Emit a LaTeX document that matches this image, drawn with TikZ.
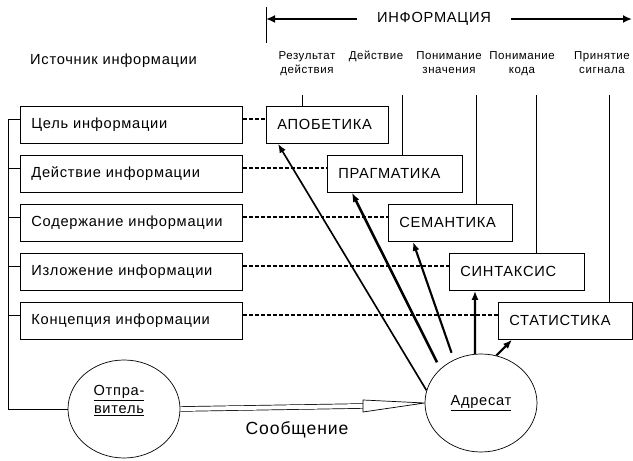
\documentclass[tikz,border=0pt]{standalone}
\usepackage{fontspec}
\setmainfont{Liberation Sans}[LetterSpace=5]
\usetikzlibrary{arrows.meta, shapes.geometric, calc}

\begin{document}
\begin{tikzpicture}[x=0.03cm, y=-0.03cm,
  srcbox/.style={draw, line width=0.7pt, anchor=north west, minimum height=1.11cm,
    text width=6.0cm, inner xsep=0.33cm, align=left, font=\fontsize{12.5}{14}\selectfont},
  lvlbox/.style={draw, line width=0.7pt, anchor=north west, minimum height=1.11cm,
    inner xsep=0.33cm, align=left, font=\fontsize{12.5}{14}\selectfont},
  coltxt/.style={anchor=north, inner sep=0pt, align=center, font=\fontsize{9.8}{12}\selectfont},
  party/.style={draw, ellipse, line width=0.6pt, minimum width=3.36cm, minimum height=2.94cm,
    inner sep=0pt, font=\fontsize{12.5}{14}\selectfont},
  link/.style={line width=1.4pt, dash pattern=on 3.4pt off 1.7pt},
  up/.style={line width=1.8pt, -{Latex[length=0.27cm, width=0.21cm]}}
]
\useasboundingbox (0,0) rectangle (633,461);

% Top arrow: information
\coordinate (iTickA) at (266,7);
\coordinate (iTickB) at (266,43);
\coordinate (iL) at (266,19);
\coordinate (iR) at (632,19);
\draw[line width=0.7pt] (iTickA) -- (iTickB);
\draw[line width=1.8pt, {Latex[length=0.27cm, width=0.24cm]}-{Latex[length=0.27cm, width=0.24cm]}]
  (iL) -- node[pos=0.459, fill=white, inner xsep=0.6cm, font=\fontsize{12.5}{14}\selectfont] (info) {ИНФОРМАЦИЯ} (iR);

% Column labels
\node[coltxt] (lres) at (307,51) {Результат\\действия};
\node[coltxt] (lact) at (376,51) {Действие};
\node[coltxt] (lmean) at (449,51) {Понимание\\значения};
\node[coltxt] (lcode) at (522,51) {Понимание\\кода};
\node[coltxt] (lsig) at (602,51) {Принятие\\сигнала};

% Source title
\node[anchor=west, inner sep=0pt, font=\fontsize{12.5}{14}\selectfont] (srctitle) at (30,61) {Источник информации};

% Source boxes
\node[srcbox] (src1) at (20,106) {Цель информации};
\node[srcbox] (src2) at (20,155) {Действие информации};
\node[srcbox] (src3) at (20,204) {Содержание информации};
\node[srcbox] (src4) at (20,253) {Изложение информации};
\node[srcbox] (src5) at (20,302) {Концепция информации};

% Level boxes
\node[lvlbox, text width=3.0cm] (apo) at (266,106) {АПОБЕТИКА};
\node[lvlbox, text width=3.39cm] (prag) at (327,155) {ПРАГМАТИКА};
\node[lvlbox, text width=3.06cm] (sem) at (388,204) {СЕМАНТИКА};
\node[lvlbox, text width=3.39cm] (synt) at (449,253) {СИНТАКСИС};
\node[lvlbox, text width=3.36cm] (stat) at (498,302) {СТАТИСТИКА};

% Sender and addressee
\node[party, label={[shift={(-0.15cm,0.25cm)}, align=center, font=\fontsize{12.5}{15}\selectfont]center:{\underline{Отпра-}\\\underline{витель}}}] (snd) at (124,409) {};
\node[party] (adr) at (481,403) {\underline{Адресат}};

% Vertical lines from the column labels
\coordinate (vA) at (302,95);
\coordinate (vB) at (402,95);
\coordinate (vC) at (476,95);
\coordinate (vD) at (536,95);
\coordinate (vE) at (609,95);
\draw[line width=0.7pt] (vA) -- (vA |- apo.north);
\draw[line width=0.7pt] (vB) -- (vB |- prag.north);
\draw[line width=0.7pt] (vC) -- (vC |- sem.north);
\draw[line width=0.7pt] (vD) -- (vD |- synt.north);
\draw[line width=0.7pt] (vE) -- (vE |- stat.north);

% Bracket on the left
\draw[line width=0.7pt] ([yshift=0.17cm]src1.west) -- ++(-12,0) coordinate (brtop) |- (snd.west);
\draw[line width=0.7pt] ([yshift=0.17cm]src2.west) -- ++(-12,0);
\draw[line width=0.7pt] ([yshift=0.17cm]src3.west) -- ++(-12,0);
\draw[line width=0.7pt] ([yshift=0.17cm]src4.west) -- ++(-12,0);
\draw[line width=0.7pt] ([yshift=0.17cm]src5.west) -- ++(-12,0);

% Dashed links
\draw[link] ([yshift=0.17cm]src1.east) -- ([yshift=0.17cm]apo.west);
\draw[link] ([yshift=0.17cm]src2.east) -- ([yshift=0.17cm]prag.west);
\draw[link] ([yshift=0.17cm]src3.east) -- ([yshift=0.17cm]sem.west);
\draw[link] ([yshift=0.17cm]src4.east) -- ([yshift=0.17cm]synt.west);
\draw[link] ([yshift=0.17cm]src5.east) -- ([yshift=0.17cm]stat.west);

% Arrows from the addressee
\draw[up, line width=1.4pt] (adr.167) -- ([xshift=0.36cm]apo.south west);
\draw[up, line width=2.2pt, shorten <=0.22cm] (adr.140) -- ([xshift=0.75cm]prag.south west);
\draw[up, shorten <=0.22cm] (adr.122) -- ([xshift=0.75cm]sem.south west);
\draw[up] (adr.97) -- ([xshift=0.78cm]synt.south west);
\draw[up] (adr.72) -- ([xshift=0.42cm]stat.south west);

% Message
\draw[line width=0.6pt, double, double distance=0.12cm] (snd.east) -- (363,406) coordinate (mbase);
\draw[line width=0.6pt, fill=white] ($(mbase)+(0,-6)$) -- (adr.west) -- ($(mbase)+(0,6)$) -- cycle;
\node[font=\fontsize{15}{18}\selectfont] (msg) at (297,430) {Сообщение};
\end{tikzpicture}
\end{document}
